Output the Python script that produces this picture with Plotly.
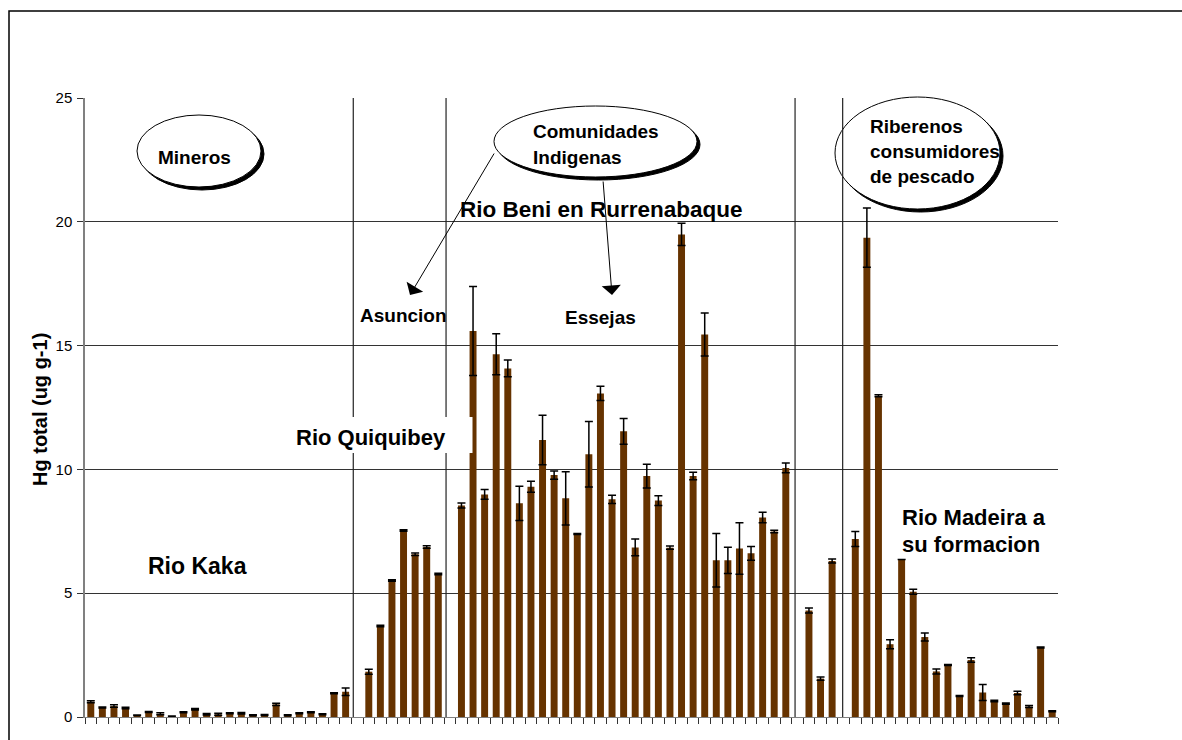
import plotly.graph_objects as go

# ---------------- data (Hg total, ug g-1) ----------------
kaka = [0.62, 0.38, 0.44, 0.36, 0.07, 0.20, 0.13, 0.03, 0.19, 0.31, 0.11, 0.11,
        0.15, 0.15, 0.07, 0.08, 0.51, 0.07, 0.15, 0.19, 0.11, 0.96, 1.02]
kaka_err = [0.04, 0.02, 0.05, 0.03, 0.01, 0.02, 0.04, 0.01, 0.02, 0.03, 0.03, 0.04,
            0.02, 0.03, 0.02, 0.02, 0.05, 0.02, 0.02, 0.02, 0.02, 0.02, 0.15]
quiquibey = [1.83, 3.68, 5.51, 7.53, 6.57, 6.87, 5.78]
quiquibey_err = [0.10, 0.03, 0.03, 0.03, 0.05, 0.05, 0.03]
beni = [8.54, 15.59, 8.99, 14.65, 14.08, 8.63, 9.30, 11.19, 9.77, 8.83, 7.39, 10.61,
        13.07, 8.79, 11.54, 6.85, 9.73, 8.74, 6.84, 19.49, 9.73, 15.45, 6.33, 6.33,
        6.81, 6.61, 8.06, 7.49, 10.06]
beni_err = [0.10, 1.80, 0.20, 0.83, 0.34, 0.69, 0.22, 1.00, 0.17, 1.08, 0.02, 1.32,
            0.29, 0.17, 0.52, 0.34, 0.48, 0.20, 0.07, 0.45, 0.15, 0.87, 1.08, 0.53,
            1.04, 0.28, 0.21, 0.05, 0.20]
grupo4 = [4.30, 1.55, 6.30]
grupo4_err = [0.10, 0.07, 0.08]
madeira = [7.19, 19.36, 12.97, 2.94, 6.36, 5.06, 3.23, 1.84, 2.10, 0.85, 2.30, 0.99,
           0.65, 0.54, 0.97, 0.42, 2.81, 0.23]
madeira_err = [0.30, 1.20, 0.04, 0.18, 0.0, 0.10, 0.16, 0.10, 0.02, 0.02, 0.09, 0.32,
               0.03, 0.03, 0.07, 0.04, 0.02, 0.02]

groups = [(kaka, kaka_err), (quiquibey, quiquibey_err), (beni, beni_err),
          (grupo4, grupo4_err), (madeira, madeira_err)]

# build sequential slots with one empty slot between groups
xs, ys, es = [], [], []
pos = 0
for gi, (vals, errs) in enumerate(groups):
    for v, e in zip(vals, errs):
        xs.append(pos); ys.append(v); es.append(e)
        pos += 1
    if gi < len(groups) - 1:
        pos += 1
n_slots = pos

# separator line positions (in slot units)
separators = [22.66, 30.67, 60.8, 64.91]

# ---------------- layout geometry (page pixels; body margin removed) ----------------
W, H = 1182, 740
PL, PT, PR, PB = 85, 98, 1058, 717          # plot area
L, T, R, B = PL, PT, W - PR, H - PB
PW, PH = PR - PL, PB - PT


def px(x):
    return (x - PL) / PW


def py(y):
    return (PB - y) / PH


BROWN = "#663300"
FONT = "Liberation Sans, Arial, sans-serif"

fig = go.Figure()
fig.add_trace(go.Bar(
    x=xs, y=ys,
    marker=dict(color=BROWN, line=dict(width=0)),
    error_y=dict(type="data", array=es, visible=True, color="black",
                 thickness=1.5, width=4),
    showlegend=False, hoverinfo="skip",
))

shapes = []
# outer frame: top and left edges
shapes.append(dict(type="path", xref="paper", yref="paper",
                   path=f"M {px(9)} {py(760)} L {px(9)} {py(11)} L {px(1200)} {py(11)}",
                   line=dict(color="black", width=1.5), layer="above"))
# white box behind "Rio Beni en Rurrenabaque" (covers gridline)
shapes.append(dict(type="rect", xref="paper", yref="paper",
                   x0=px(447), x1=px(767), y0=py(222.6), y1=py(194),
                   line=dict(width=0), fillcolor="white", layer="between"))


def ellipse(x0, x1, y0, y1):
    # shadow
    shapes.append(dict(type="circle", xref="paper", yref="paper",
                       x0=px(x0 + 3), x1=px(x1 + 3), y0=py(y1 + 3), y1=py(y0 + 3),
                       line=dict(color="black", width=1), fillcolor="black",
                       layer="above"))
    shapes.append(dict(type="circle", xref="paper", yref="paper",
                       x0=px(x0), x1=px(x1), y0=py(y1), y1=py(y0),
                       line=dict(color="black", width=1), fillcolor="white",
                       layer="above"))


ellipse(137, 261, 115, 187)
ellipse(494, 697, 106, 177)
ellipse(835, 1000, 97, 209)

# vertical separators
for s in separators:
    shapes.append(dict(type="line", xref="x", yref="y", x0=s, x1=s, y0=-0.15, y1=25.15,
                       line=dict(color="#222222", width=1.2), layer="above"))

# white box behind "Rio Quiquibey" (covers lines and part of a bar)
shapes.append(dict(type="rect", xref="paper", yref="paper",
                   x0=px(280), x1=px(472.5), y0=py(453), y1=py(417),
                   line=dict(width=0), fillcolor="white", layer="above"))

annotations = []


def label(text, x, y, size, xanchor="center"):
    annotations.append(dict(text=text, xref="paper", yref="paper", x=px(x), y=py(y),
                            xanchor=xanchor, yanchor="middle", showarrow=False,
                            font=dict(family=FONT, size=size, color="black",
                                      weight="bold")))


label("Mineros", 156, 158, 19, "left")
label("Comunidades", 531, 132, 19, "left")
label("Indigenas", 531, 158, 19, "left")
label("Riberenos", 868, 126, 19, "left")
label("consumidores", 868, 151, 19, "left")
label("de pescado", 868, 176, 19, "left")
label("Rio Beni en Rurrenabaque", 601, 209, 22.5)
label("Asuncion", 358, 315, 19, "left")
label("Essejas", 600, 317, 19)
label("Rio Quiquibey", 371, 437, 22)
label("Rio Kaka", 197, 566, 23)
label("Rio Madeira a", 900, 517, 22, "left")
label("su formacion", 900, 544, 22, "left")

# arrows
for head, tail in [((410, 295), (495, 152)), ((612, 295), (603, 180))]:
    annotations.append(dict(text="", xref="paper", yref="paper",
                            x=px(head[0]), y=py(head[1]),
                            ax=tail[0] - head[0], ay=tail[1] - head[1],
                            showarrow=True, arrowhead=1, arrowsize=3.2,
                            arrowwidth=1, arrowcolor="black"))

# y-axis title
annotations.append(dict(text="Hg total (ug g-1)", xref="paper", yref="paper",
                        x=px(40), y=py(410), textangle=-90, showarrow=False,
                        xanchor="center", yanchor="middle",
                        font=dict(family=FONT, size=20, color="black", weight="bold")))

fig.update_layout(
    width=W, height=H,
    margin=dict(l=L, r=R, t=T, b=B, pad=0),
    paper_bgcolor="white", plot_bgcolor="white",
    bargap=0.4,
    hovermode=False,
    shapes=shapes, annotations=annotations,
    font=dict(family=FONT, color="black"),
    xaxis=dict(range=[-0.5, n_slots - 0.5], showgrid=False, zeroline=False,
               showline=True, linecolor="#808080", linewidth=1,
               ticks="outside", ticklen=6, tickcolor="#333333", tickwidth=1,
               tick0=-0.5, dtick=1, showticklabels=False),
    yaxis=dict(range=[0, 25], tickvals=[0, 5, 10, 15, 20, 25],
               showgrid=True, gridcolor="#333333", gridwidth=1, zeroline=False,
               showline=True, linecolor="#808080", linewidth=1.5,
               ticks="outside", ticklen=6, tickcolor="#333333",
               tickfont=dict(family=FONT, size=15, color="black"),
               ticklabelstandoff=2),
)

fig.write_html("out.html",
               config={"displayModeBar": False},
               post_script="document.body.style.margin='0';"
                           "document.documentElement.style.overflow='hidden';")
